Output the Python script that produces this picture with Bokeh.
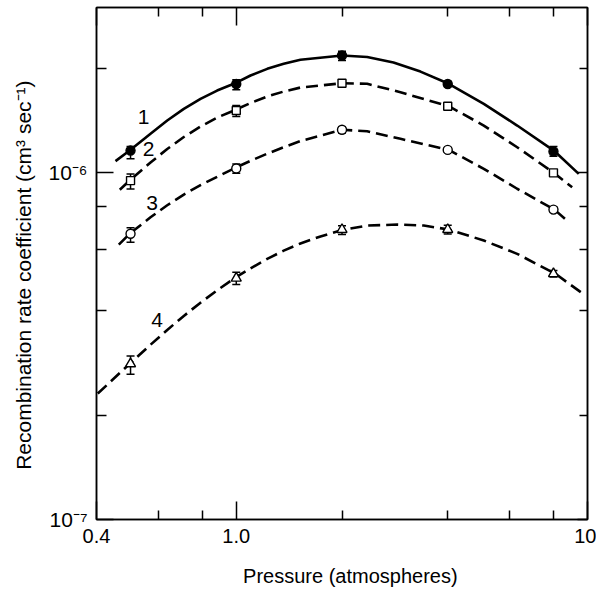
from bokeh.plotting import figure
from bokeh.models import LogAxis, FixedTicker, Whisker, ColumnDataSource, TeeHead
from bokeh.embed import file_html
from bokeh.resources import INLINE
from bokeh.core.properties import value

FONT = "Liberation Sans"
E6 = 1e-6
NB = "\u00a0"

# ---- measured points (pressure in atm, coefficient in units of 1e-6 cm^3/s) ----
pressure = [0.5, 1.0, 2.0, 4.0, 8.0]

s1_y = [1.157, 1.800, 2.175, 1.800, 1.150]
s1_lo = [1.095, 1.733, 2.103, 1.770, 1.114]
s1_hi = [1.188, 1.852, 2.237, 1.830, 1.188]

s2_y = [0.948, 1.509, 1.809, 1.553, 0.998]
s2_lo = [0.897, 1.450, 1.780, 1.530, 0.985]
s2_hi = [0.991, 1.560, 1.840, 1.575, 1.012]

s3_y = [0.666, 1.027, 1.328, 1.162, 0.782]
s3_lo = [0.630, 0.995, 1.300, 1.145, 0.770]
s3_hi = [0.693, 1.059, 1.355, 1.178, 0.795]

s4_y = [0.281, 0.496, 0.685, 0.685, 0.511]
s4_lo = [0.262, 0.476, 0.663, 0.665, 0.500]
s4_hi = [0.296, 0.516, 0.703, 0.705, 0.522]

# ---- fitted curves ----
c1_x = [0.453, 0.497, 0.570, 0.636, 0.709, 0.791, 0.882, 0.984, 1.098, 1.225,
        1.365, 1.523, 2.002, 2.359, 2.803, 3.345, 4.027, 5.067, 6.306, 8.017, 9.443]
c1_y = [1.079, 1.157, 1.293, 1.412, 1.526, 1.631, 1.723, 1.802, 1.904, 1.990,
        2.057, 2.113, 2.174, 2.152, 2.075, 1.954, 1.802, 1.578, 1.366, 1.157, 0.991]

c2_x = [0.466, 0.497, 0.570, 0.636, 0.709, 0.791, 0.882, 0.984, 1.098, 1.225,
        1.365, 1.523, 2.002, 2.359, 2.934, 4.027, 5.067, 6.306, 8.017, 9.043]
c2_y = [0.892, 0.948, 1.069, 1.169, 1.266, 1.357, 1.440, 1.509, 1.586, 1.656,
        1.712, 1.758, 1.809, 1.802, 1.704, 1.553, 1.366, 1.183, 0.998, 0.907]

c3_x = [0.463, 0.497, 0.570, 0.636, 0.709, 0.791, 0.882, 0.984, 1.098, 1.225,
        1.365, 1.523, 2.002, 2.359, 2.934, 4.027, 5.067, 6.306, 8.050, 8.845]
c3_y = [0.620, 0.666, 0.743, 0.805, 0.864, 0.920, 0.972, 1.027, 1.081, 1.133,
        1.183, 1.232, 1.328, 1.315, 1.251, 1.162, 1.025, 0.898, 0.782, 0.719]

c4_x = [0.4034, 0.497, 0.570, 0.636, 0.709, 0.791, 0.882, 0.988, 1.098, 1.225,
        1.365, 1.523, 1.737, 2.002, 2.359, 2.872, 3.419, 4.027, 5.067, 6.306, 8.110, 9.870]
c4_y = [0.2307, 0.2810, 0.3190, 0.3519, 0.3861, 0.4217, 0.4578, 0.4959, 0.5295, 0.5636,
        0.5955, 0.6246, 0.6543, 0.6828, 0.7035, 0.7080, 0.7035, 0.6850, 0.6370, 0.5830, 0.5105, 0.4419]

curve_labels = ["1", "2", "3", "4"]
label_x = [0.545, 0.563, 0.576, 0.595]
label_y = [1.443, 1.170, 0.816, 0.377]

x_major = [0.4, 1.0, 10.0]
x_minor = [0.6, 0.8, 2.0, 4.0, 6.0, 8.0]
x_labels = {0.4: "0.4", 1.0: "1.0", 10.0: "10"}
y_major = [1e-7, 1e-6]
y_minor = [2e-7, 4e-7, 6e-7, 8e-7, 2e-6]
y_labels = {1e-7: "10\u207b\u2077", 1e-6: "10\u207b\u2076"}

x_title = "Pressure (atmospheres)"
y_title = "Recombination rate coefficient (cm\u00b3 sec\u207b\u00b9)"

p = figure(width=596, height=592, x_axis_type="log", y_axis_type="log",
           x_range=(0.4, 10), y_range=(1e-7, 2.99e-6),
           output_backend="svg", toolbar_location=None,
           min_border_left=96, min_border_right=9, min_border_top=7, min_border_bottom=73)
p.background_fill_color = "white"
p.border_fill_color = "white"
p.xgrid.visible = False
p.ygrid.visible = False
p.outline_line_color = "black"
p.outline_line_width = 1.5


def style(ax, major_in, minor_in):
    ax.major_tick_in = major_in
    ax.major_tick_out = 0
    ax.minor_tick_in = minor_in
    ax.minor_tick_out = 0
    ax.axis_line_color = "black"
    ax.axis_line_width = 1.5
    ax.major_tick_line_color = "black"
    ax.minor_tick_line_color = "black"
    ax.major_tick_line_width = 1.5
    ax.minor_tick_line_width = 1.5
    ax.major_label_text_font = FONT
    ax.major_label_text_color = "black"
    ax.axis_label_text_font = FONT
    ax.axis_label_text_font_style = "normal"
    ax.axis_label_text_color = "black"


xb = p.xaxis[0]
xb.ticker = FixedTicker(ticks=x_major, minor_ticks=x_minor)
xb.major_label_overrides = x_labels
style(xb, 18, 9)
xb.major_label_text_font_size = "20px"
xb.major_label_standoff = 9
xb.axis_label = NB * 3 + x_title
xb.axis_label_text_font_size = "20px"
xb.axis_label_standoff = 19

yl = p.yaxis[0]
yl.ticker = FixedTicker(ticks=y_major, minor_ticks=y_minor)
yl.major_label_overrides = y_labels
style(yl, 17, 10)
yl.major_label_text_font_size = "21px"
yl.major_label_standoff = 9
yl.axis_label = y_title + NB * 4
yl.axis_label_text_font_size = "21px"
yl.axis_label_standoff = 10


def hide_labels(ax, majors):
    ax.major_label_text_font_size = "0px"
    ax.major_label_text_alpha = 0
    ax.major_label_standoff = 0
    ax.axis_label_standoff = 0
    ax.major_label_overrides = {v: "" for v in majors}


xt = LogAxis(ticker=FixedTicker(ticks=x_major, minor_ticks=x_minor))
style(xt, 18, 9)
hide_labels(xt, x_major)
p.add_layout(xt, "above")

yr = LogAxis(ticker=FixedTicker(ticks=y_major, minor_ticks=y_minor))
style(yr, 10, 8)
hide_labels(yr, y_major)
p.add_layout(yr, "right")

dash = "12 6"
p.line(c1_x, [v * E6 for v in c1_y], line_color="black", line_width=2.6)
for cx, cy in ((c2_x, c2_y), (c3_x, c3_y), (c4_x, c4_y)):
    p.line(cx, [v * E6 for v in cy], line_color="black", line_width=2.6, line_dash=dash)

series = [
    (s1_y, s1_lo, s1_hi, "circle", 9, "black"),
    (s2_y, s2_lo, s2_hi, "square", 8, "white"),
    (s3_y, s3_lo, s3_hi, "circle", 9, "white"),
    (s4_y, s4_lo, s4_hi, "triangle", 10, "white"),
]
for ys, lo, hi, mk, sz, fill in series:
    src = ColumnDataSource(dict(x=pressure, y=[v * E6 for v in ys],
                                lo=[v * E6 for v in lo], hi=[v * E6 for v in hi]))
    p.add_layout(Whisker(source=src, base="x", lower="lo", upper="hi", dimension="height",
                         line_color="black", line_width=1.5,
                         upper_head=TeeHead(size=8, line_width=1.5, line_color="black"),
                         lower_head=TeeHead(size=8, line_width=1.5, line_color="black")))
    p.scatter("x", "y", source=src, marker=mk, size=sz, fill_color=fill,
              line_color="black", line_width=1.4)

p.text(x=label_x, y=[v * E6 for v in label_y], text=curve_labels,
       text_font=value(FONT), text_font_size="21px", text_color="black",
       text_align="center", text_baseline="middle")

open("out.html", "w").write(file_html(p, INLINE))
